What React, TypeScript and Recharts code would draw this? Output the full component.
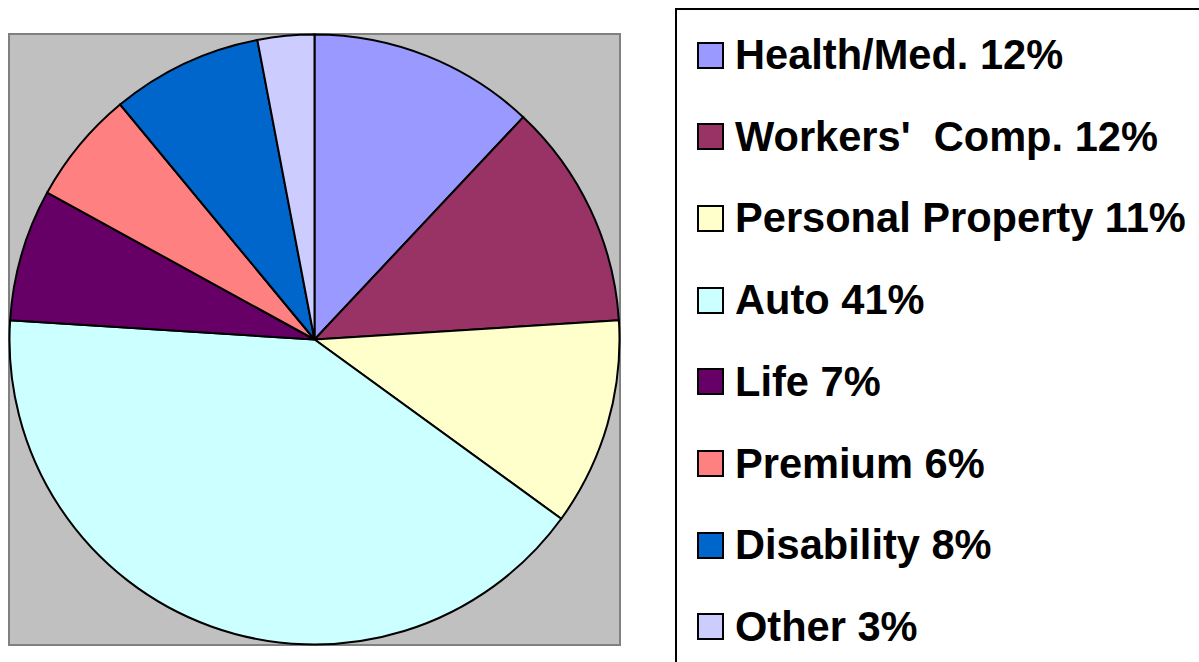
import { PieChart, Pie, Cell, Legend } from "recharts";

const categories = [
  "Health/Med.",
  "Workers'  Comp.",
  "Personal Property",
  "Auto",
  "Life",
  "Premium",
  "Disability",
  "Other",
];
const shares = [12, 12, 11, 41, 7, 6, 8, 3];
const colors = ["#9999FF", "#993366", "#FFFFCC", "#CCFFFF", "#660066", "#FF8080", "#0066CC", "#CCCCFF"];

const data = categories.map((name, i) => ({ name, value: shares[i], color: colors[i] }));

function LegendBox() {
  return (
    <div
      style={{
        position: "absolute",
        left: 675,
        top: 8,
        width: 600,
        height: 700,
        border: "2.5px solid #000",
        background: "#fff",
        boxSizing: "border-box",
      }}
    >
      {data.map((d, i) => (
        <div
          key={d.name}
          style={{
            position: "absolute",
            left: 20,
            top: 30 + i * 81.71,
            height: 30,
            display: "flex",
            alignItems: "center",
            whiteSpace: "pre",
          }}
        >
          <span
            style={{
              width: 27,
              height: 27,
              boxSizing: "border-box",
              border: "2px solid #000",
              background: d.color,
              display: "inline-block",
              flexShrink: 0,
            }}
          />
          <span
            style={{
              marginLeft: 11,
              fontFamily: "'Liberation Sans', Arial, sans-serif",
              fontWeight: 700,
              fontSize: 41.6,
              color: "#000",
              lineHeight: "30px",
            }}
          >
            {`${d.name} ${d.value}%`}
          </span>
        </div>
      ))}
    </div>
  );
}

export default function App() {
  return (
    <div
      style={{
        position: "absolute",
        left: 0,
        top: 0,
        width: 1199,
        height: 662,
        overflow: "hidden",
        background: "#fff",
      }}
    >
      <div
        style={{
          position: "absolute",
          left: 8,
          top: 33,
          width: 613,
          height: 613,
          background: "#C0C0C0",
          border: "2px solid #808080",
          boxSizing: "border-box",
        }}
      />
      <PieChart
        width={1199}
        height={662}
        margin={{ top: 0, right: 0, bottom: 0, left: 0 }}
        style={{ position: "absolute", left: 0, top: 0 }}
      >
        <Pie
          data={data}
          dataKey="value"
          nameKey="name"
          cx={314.5}
          cy={339.5}
          outerRadius={305}
          startAngle={90}
          endAngle={-270}
          stroke="#000"
          strokeWidth={2}
          isAnimationActive={false}
        >
          {data.map((d, i) => (
            <Cell key={`cell-${i}`} fill={d.color} />
          ))}
        </Pie>
        <Legend content={() => <LegendBox />} wrapperStyle={{ position: "absolute", left: 0, top: 0, width: 0, height: 0 }} />
      </PieChart>
    </div>
  );
}
